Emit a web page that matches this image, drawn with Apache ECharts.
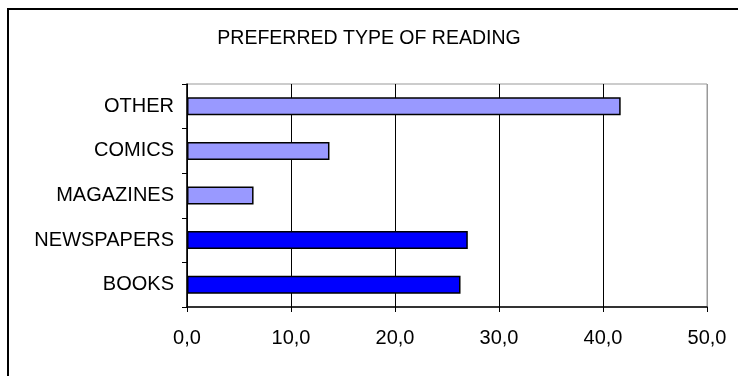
<!DOCTYPE html>
<html>
<head>
<meta charset="utf-8">
<style>
  html, body { margin: 0; padding: 0; background: #fff; }
  #chart { width: 738px; height: 376px; }
</style>
<script src="https://cdn.jsdelivr.net/npm/echarts@6/dist/echarts.min.js"></script>
</head>
<body>
<div id="chart"></div>
<script>
// Reading preferences (percent of respondents), bottom to top
const categories = ['BOOKS', 'NEWSPAPERS', 'MAGAZINES', 'COMICS', 'OTHER'];
const shares = [26.3, 27.0, 6.4, 13.7, 41.7];
const axisTicks = [0, 10, 20, 30, 40, 50];

const DARK = '#0000FF';
const LIGHT = '#9999FF';
const FONT = '"Liberation Sans", Arial, sans-serif';

const chart = echarts.init(document.getElementById('chart'), null, { renderer: 'canvas' });

chart.setOption({
  animation: false,
  backgroundColor: '#fff',
  title: {
    text: 'PREFERRED TYPE OF READING',
    left: 'center',
    top: 24,
    textStyle: { fontFamily: FONT, fontSize: 19.5, fontWeight: 'normal', color: '#000' }
  },
  graphic: [{
    type: 'rect',
    shape: { x: 8, y: 9, width: 800, height: 500 },
    style: { fill: 'none', stroke: '#000', lineWidth: 2 },
    silent: true
  }],
  grid: {
    left: 187, right: 31, top: 84, bottom: 69,
    show: true, borderColor: '#999', borderWidth: 1, backgroundColor: 'transparent'
  },
  xAxis: {
    type: 'value',
    min: axisTicks[0],
    max: axisTicks[axisTicks.length - 1],
    interval: axisTicks[1] - axisTicks[0],
    axisLine: { show: true, lineStyle: { color: '#000', width: 1.5 } },
    axisTick: { show: true, length: 5, lineStyle: { color: '#000' } },
    axisLabel: {
      margin: 21,
      fontFamily: FONT, fontSize: 20, color: '#000',
      formatter: v => v.toFixed(1).replace('.', ',')
    },
    splitLine: {
      show: true,
      lineStyle: { color: ['#000', '#000', '#000', '#000', '#000', '#999'], width: 1 }
    }
  },
  yAxis: {
    type: 'category',
    data: categories,
    axisLine: { show: true, lineStyle: { color: '#000', width: 1.5 } },
    axisTick: { show: true, length: 5, lineStyle: { color: '#000' } },
    axisLabel: { margin: 13, fontFamily: FONT, fontSize: 20, color: '#000' }
  },
  series: [{
    type: 'bar',
    data: shares,
    barWidth: 18,
    itemStyle: {
      color: p => (p.dataIndex < 2 ? DARK : LIGHT),
      borderColor: '#000',
      borderWidth: 1.5
    }
  }]
});
</script>
</body>
</html>
